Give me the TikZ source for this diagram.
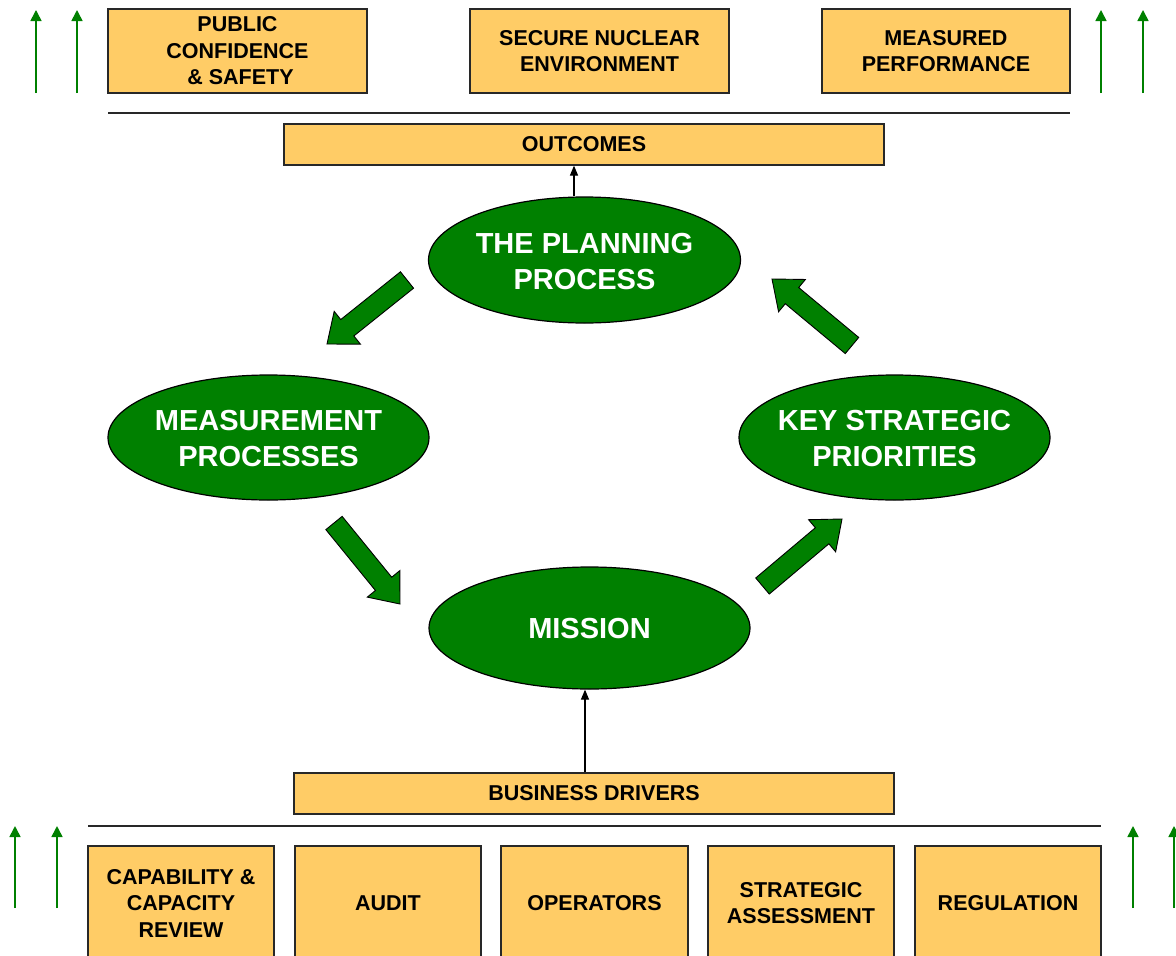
\documentclass[tikz,border=0pt]{standalone}
\usepackage{fontspec}
\setmainfont{Liberation Sans}
\usetikzlibrary{arrows.meta,calc,shapes.geometric}

\definecolor{boxfill}{RGB}{255,204,102}
\definecolor{procgreen}{RGB}{0,128,0}
\definecolor{edgegray}{RGB}{40,40,40}

\tikzset{
  labelbox/.style={draw=edgegray, line width=1.2pt, fill=boxfill, inner sep=0pt,
    align=center, font=\fontsize{21.5}{26.5}\selectfont\bfseries},
  process/.style={ellipse, draw=black, line width=1.2pt, fill=procgreen, inner sep=0pt},
  proctext/.style={inner sep=0pt, text=white, align=center,
    font=\fontsize{29}{36}\selectfont\bfseries},
  rule/.style={draw=edgegray, line width=1.3pt},
  link/.style={draw=black, line width=1.2pt, -{Triangle[width=8pt,length=10pt]}},
  rise/.style={draw=procgreen, line width=1.6pt, -{Triangle[width=11pt,length=11pt]}},
  flow/.style={draw=black, line width=0.9pt, fill=procgreen, line join=miter}
}

% block arrow from a tail point to a tip point
\newcommand{\flowarrow}[2]{%
  \draw[flow]
    ($(#1)!10.5pt!90:(#2)$) --
    ($($(#2)!26pt!(#1)$)!10.5pt!-90:(#1)$) --
    ($($(#2)!26pt!(#1)$)!21pt!-90:(#1)$) --
    (#2) --
    ($($(#2)!26pt!(#1)$)!21pt!90:(#1)$) --
    ($($(#2)!26pt!(#1)$)!10.5pt!90:(#1)$) --
    ($(#1)!10.5pt!-90:(#2)$) -- cycle;}

\begin{document}
\begin{tikzpicture}[x=1pt,y=-1pt]
\useasboundingbox (0,0) rectangle (1176,956);

% top row of results
\node[labelbox, minimum width=259pt, minimum height=84pt] (confidence) at (237.5,51) {PUBLIC\\CONFIDENCE\\\ \& SAFETY};
\node[labelbox, minimum width=259pt, minimum height=84pt] (secure) at (599.5,51) {SECURE NUCLEAR\\ENVIRONMENT};
\node[labelbox, minimum width=248pt, minimum height=84pt] (performance) at (946,51) {MEASURED\\PERFORMANCE};

\coordinate (topL) at (108,113);
\coordinate (topR) at (1070,113);
\draw[rule] (topL) -- (topR);

\node[labelbox, minimum width=600pt, minimum height=41pt] (outcomes) at (584,144.5) {OUTCOMES};

% the cycle
\node[process, minimum width=312pt, minimum height=126pt] (plan) at (584.5,260) {};
\node[proctext] (plantext) at ([yshift=-1.5pt]plan.center) {THE PLANNING\\PROCESS};
\node[process, minimum width=321pt, minimum height=125pt] (measure) at (268.5,437.5) {};
\node[proctext] (measuretext) at ([yshift=-1.5pt]measure.center) {MEASUREMENT\\PROCESSES};
\node[process, minimum width=311pt, minimum height=125pt] (priorities) at (894.5,437.5) {};
\node[proctext] (prioritiestext) at ([yshift=-1.5pt]priorities.center) {KEY STRATEGIC\\PRIORITIES};
\node[process, minimum width=321pt, minimum height=122pt] (mission) at (589.5,628) {};
\node[proctext] (missiontext) at ([yshift=-1pt]mission.center) {MISSION};

\draw[link] ([xshift=-10.5pt]plan.north) -- ([xshift=-10.5pt]plan.north |- outcomes.south);

\coordinate (a1t) at (407,280);   \coordinate (a1h) at (327,344);
\coordinate (a2t) at (334,523);   \coordinate (a2h) at (400,604);
\coordinate (a3t) at (762.5,586); \coordinate (a3h) at (842,519);
\coordinate (a4t) at (852,345.5); \coordinate (a4h) at (772,279);
\flowarrow{a1t}{a1h}
\flowarrow{a2t}{a2h}
\flowarrow{a3t}{a3h}
\flowarrow{a4t}{a4h}

% drivers
\node[labelbox, minimum width=600pt, minimum height=41pt] (drivers) at (594,793.5) {BUSINESS DRIVERS};
\draw[link] ([xshift=-4.5pt]mission.south |- drivers.north) -- ([xshift=-4.5pt]mission.south);

\coordinate (botL) at (88,826);
\coordinate (botR) at (1101,826);
\draw[rule] (botL) -- (botR);

\node[labelbox, minimum width=186pt, minimum height=114pt] (capability) at (181,903) {CAPABILITY \&\\CAPACITY\\REVIEW};
\node[labelbox, minimum width=186pt, minimum height=114pt] (audit) at (388,903) {AUDIT};
\node[labelbox, minimum width=187pt, minimum height=114pt] (operators) at (594.5,903) {OPERATORS};
\node[labelbox, minimum width=186pt, minimum height=114pt] (assessment) at (801,903) {STRATEGIC\\ASSESSMENT};
\node[labelbox, minimum width=186pt, minimum height=114pt] (regulation) at (1008,903) {REGULATION};

% rising arrows at the margins
\foreach \x [count=\i] in {36,77,1101,1143} {
  \coordinate (ub\i) at (\x,93); \coordinate (ut\i) at (\x,10);
  \draw[rise] (ub\i) -- (ut\i);
}
\foreach \x [count=\i] in {15,57,1133,1174} {
  \coordinate (lb\i) at (\x,908); \coordinate (lt\i) at (\x,826);
  \draw[rise] (lb\i) -- (lt\i);
}
\end{tikzpicture}
\end{document}
